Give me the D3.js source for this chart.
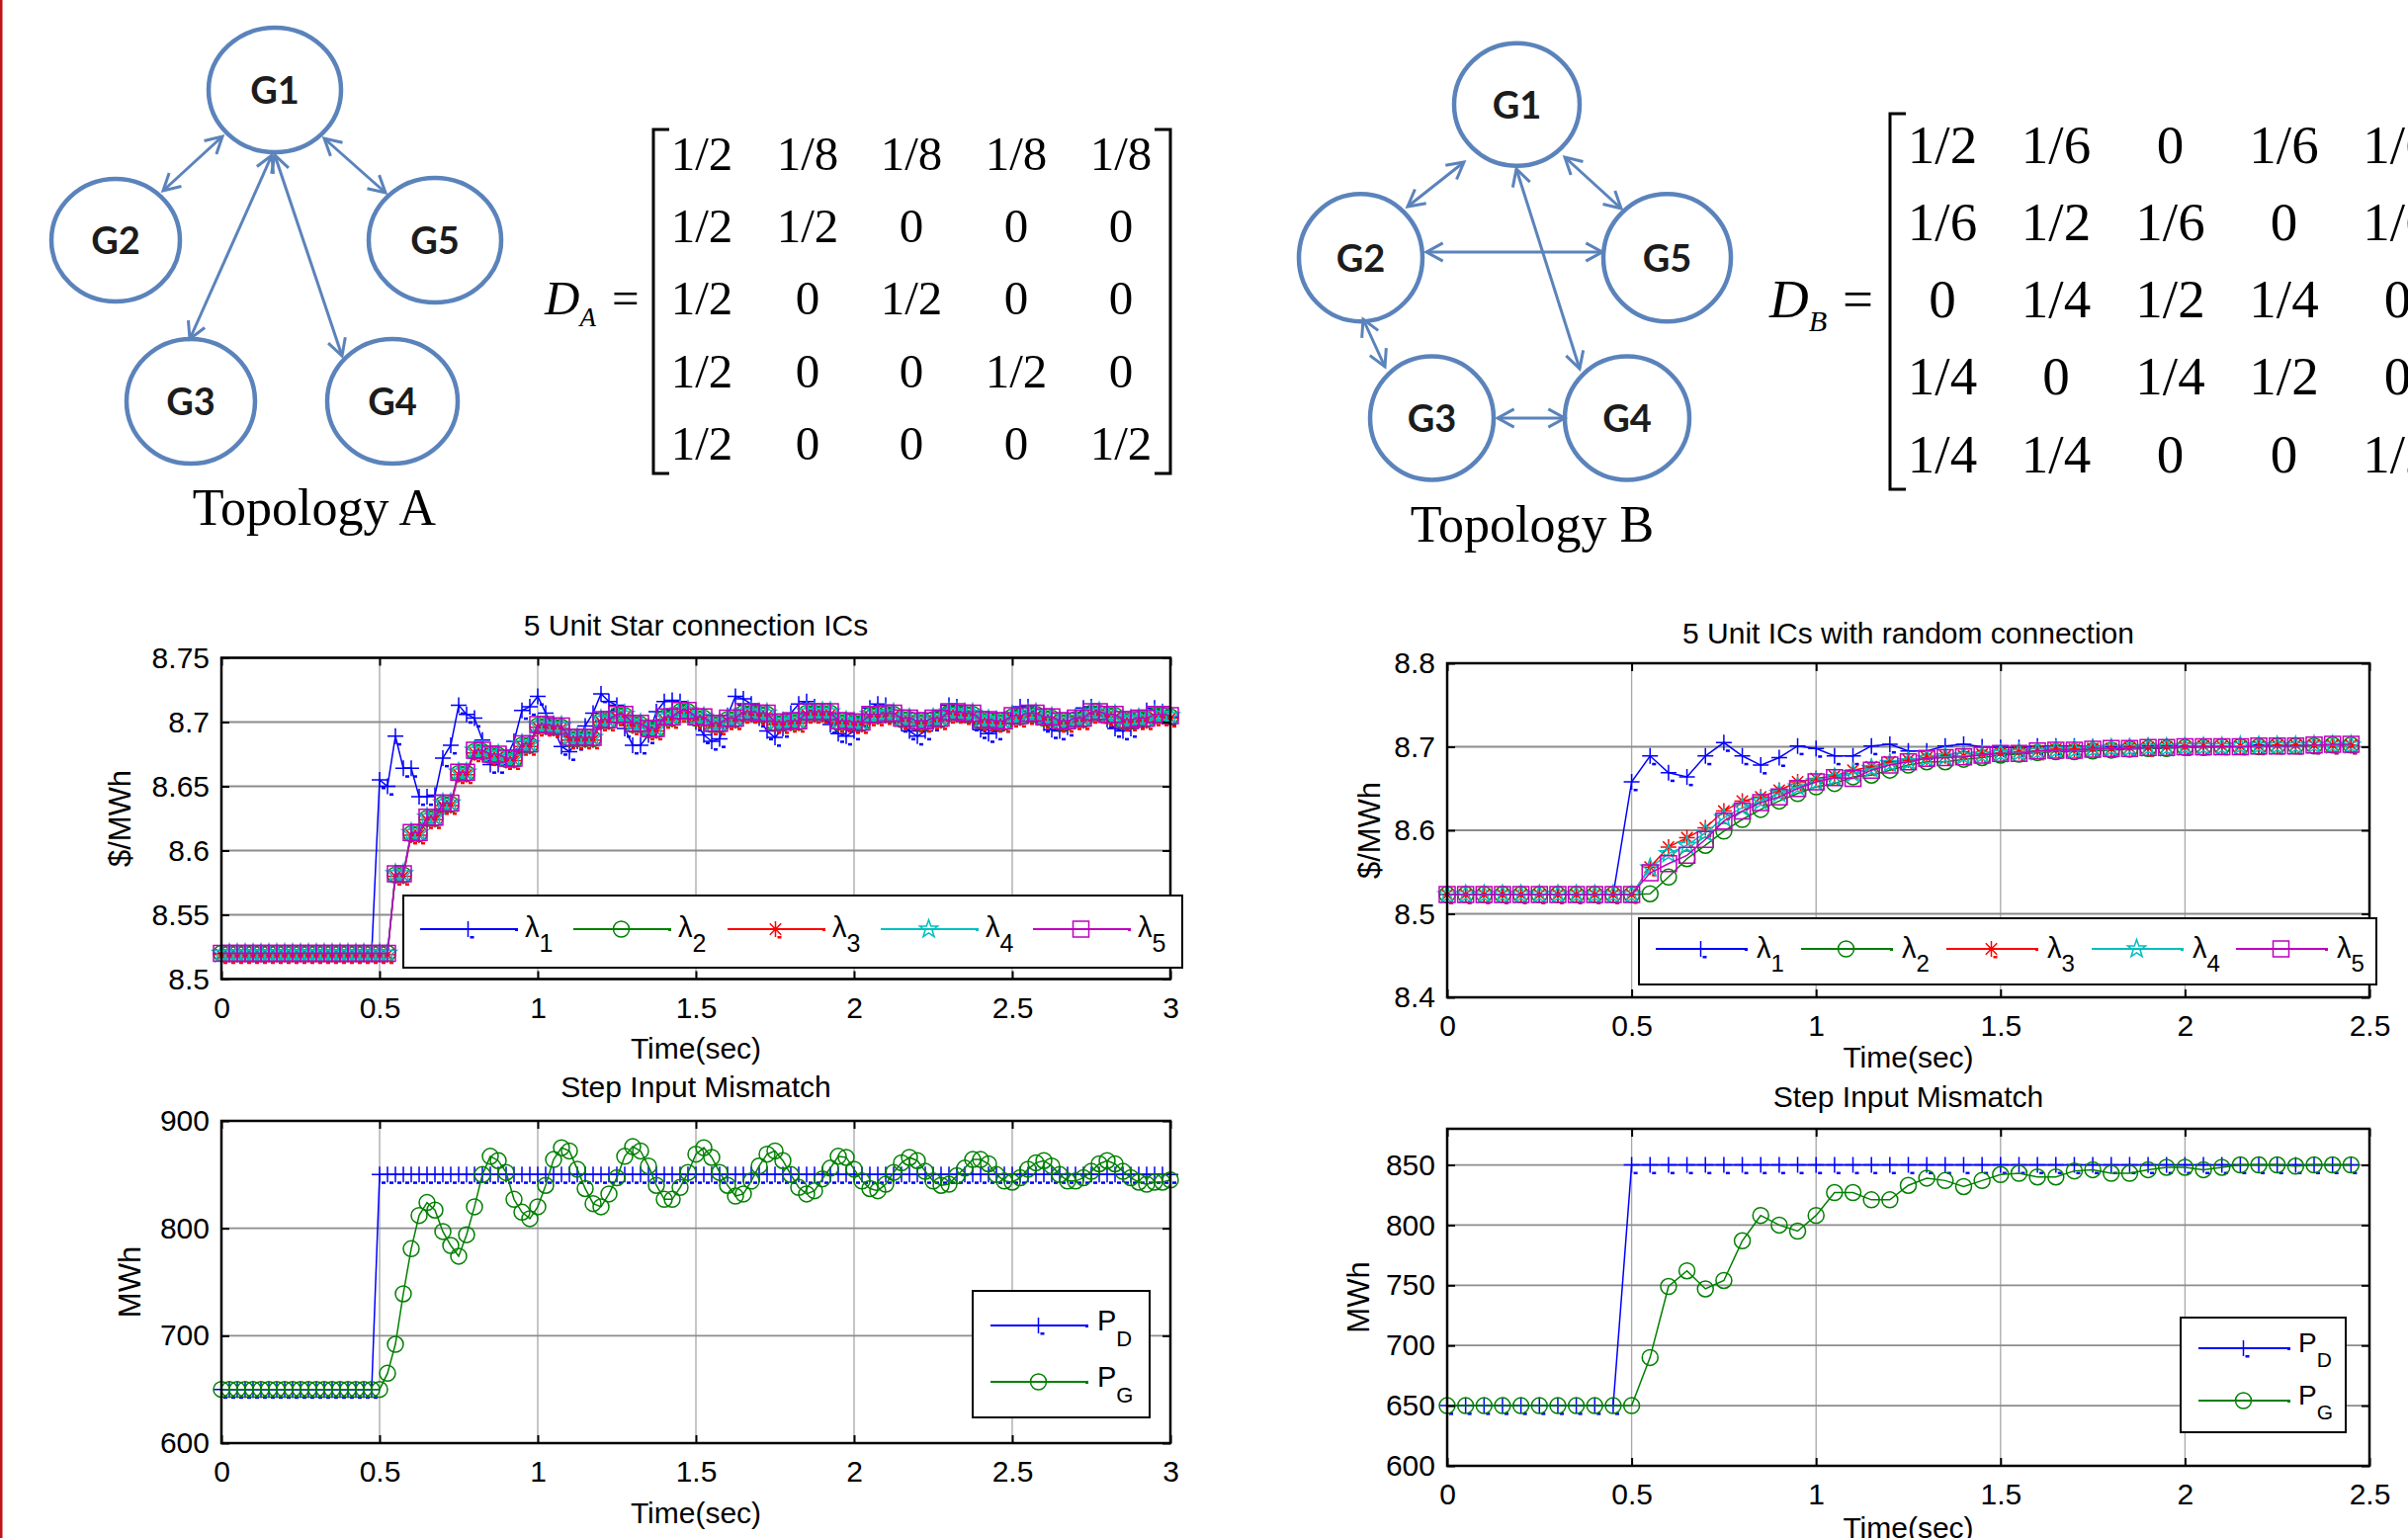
<!DOCTYPE html>
<html><head><meta charset="utf-8">
<script src="https://cdn.jsdelivr.net/npm/d3@7"></script>
<style>body{margin:0;background:#fff}svg{display:block}</style>
</head><body><div id="chart"></div>
<script>
// ---------------- DATA ----------------
const nodesA = ["G1","G2","G3","G4","G5"];
const edgesA = [["G1","G2"],["G1","G5"],["G1","G3"],["G1","G4"]];
const nodesB = ["G1","G2","G3","G4","G5"];
const edgesB = [["G1","G2"],["G1","G5"],["G2","G5"],["G1","G4"],["G2","G3"],["G3","G4"]];
const topoLabels = ["Topology A","Topology B"];

const matrixA = [["1/2","1/8","1/8","1/8","1/8"],["1/2","1/2","0","0","0"],["1/2","0","1/2","0","0"],["1/2","0","0","1/2","0"],["1/2","0","0","0","1/2"]];
const matrixB = [["1/2","1/6","0","1/6","1/6"],["1/6","1/2","1/6","0","1/6"],["0","1/4","1/2","1/4","0"],["1/4","0","1/4","1/2","0"],["1/4","1/4","0","0","1/2"]];

const xTicks3 = [0,0.5,1,1.5,2,2.5,3];
const xTicks25 = [0,0.5,1,1.5,2,2.5];
const yTicksLamA = [8.5,8.55,8.6,8.65,8.7,8.75];
const yTicksLamB = [8.4,8.5,8.6,8.7,8.8];
const yTicksPA = [600,700,800,900];
const yTicksPB = [600,650,700,750,800,850];

const stepA = 0.025;   // sample step, topology A plots
const stepB = 0.05;    // sample step, topology B plots

const lam1A = [8.52,8.52,8.52,8.52,8.52,8.52,8.52,8.52,8.52,8.52,8.52,8.52,8.52,8.52,8.52,8.52,8.52,8.52,8.52,8.52,
8.655,8.650,8.689,8.664,8.664,8.642,8.642,8.643,8.672,8.682,
8.713,8.706,8.703,8.686,8.667,8.667,8.672,8.685,8.709,8.712,
8.720,8.707,8.695,8.681,8.677,8.685,8.697,8.707,8.722,8.716,
8.713,8.695,8.682,8.682,8.690,8.708,8.716,8.717,8.716,8.706,
8.700,8.690,8.685,8.687,8.705,8.720,8.718,8.714,8.703,8.693,
8.688,8.695,8.707,8.714,8.716,8.712,8.707,8.698,8.691,8.689,
8.693,8.703,8.711,8.714,8.713,8.707,8.699,8.693,8.689,8.693,
8.700,8.708,8.713,8.712,8.708,8.700,8.694,8.691,8.693,8.699,
8.707,8.712,8.712,8.707,8.699,8.694,8.693,8.696,8.704,8.711,
8.712,8.708,8.702,8.695,8.693,8.695,8.702,8.709,8.711,8.708,
8.704];
const lam2A = [8.52,8.52,8.52,8.52,8.52,8.52,8.52,8.52,8.52,8.52,8.52,8.52,8.52,8.52,8.52,8.52,8.52,8.52,8.52,8.52,8.52,8.52,
8.581,8.581,8.613,8.613,8.625,8.625,8.636,8.636,8.660,8.660,
8.677,8.677,8.674,8.674,8.671,8.671,8.682,8.682,8.697,8.697,
8.696,8.696,8.687,8.687,8.687,8.687,8.701,8.701,8.705,8.705,
8.698,8.698,8.694,8.694,8.703,8.703,8.708,8.708,8.703,8.703,
8.698,8.698,8.702,8.702,8.707,8.707,8.706,8.706,8.699,8.699,
8.700,8.700,8.707,8.707,8.707,8.707,8.700,8.700,8.699,8.699,
8.705,8.705,8.706,8.706,8.702,8.702,8.700,8.700,8.702,8.702,
8.707,8.707,8.706,8.706,8.701,8.701,8.700,8.700,8.704,8.704,
8.706,8.706,8.703,8.703,8.700,8.700,8.702,8.702,8.707,8.707,
8.705,8.705,8.701,8.701,8.702,8.702,8.705,8.705,8.704];
const lam3A = [8.519,8.519,8.519,8.519,8.519,8.519,8.519,8.519,8.519,8.519,8.519,8.519,8.519,8.519,8.519,8.519,8.519,8.519,8.519,8.519,8.519,8.519,
8.580,8.580,8.612,8.612,8.624,8.624,8.635,8.635,8.659,8.659,
8.676,8.676,8.673,8.673,8.670,8.670,8.681,8.681,8.696,8.696,
8.695,8.695,8.686,8.686,8.686,8.686,8.700,8.700,8.704,8.704,
8.697,8.697,8.693,8.693,8.702,8.702,8.707,8.707,8.702,8.702,
8.697,8.697,8.701,8.701,8.706,8.706,8.705,8.705,8.698,8.698,
8.699,8.699,8.706,8.706,8.706,8.706,8.699,8.699,8.698,8.698,
8.704,8.704,8.705,8.705,8.701,8.701,8.699,8.699,8.701,8.701,
8.706,8.706,8.705,8.705,8.700,8.700,8.699,8.699,8.703,8.703,
8.705,8.705,8.702,8.702,8.699,8.699,8.701,8.701,8.706,8.706,
8.704,8.704,8.700,8.700,8.701,8.701,8.704,8.704,8.703];
const lam4A = [8.52,8.52,8.52,8.52,8.52,8.52,8.52,8.52,8.52,8.52,8.52,8.52,8.52,8.52,8.52,8.52,8.52,8.52,8.52,8.52,8.52,8.52,
8.582,8.582,8.614,8.614,8.626,8.626,8.637,8.637,8.661,8.661,
8.678,8.678,8.675,8.675,8.672,8.672,8.683,8.683,8.698,8.698,
8.697,8.697,8.688,8.688,8.688,8.688,8.702,8.702,8.706,8.706,
8.699,8.699,8.695,8.695,8.704,8.704,8.709,8.709,8.704,8.704,
8.699,8.699,8.703,8.703,8.708,8.708,8.707,8.707,8.700,8.700,
8.701,8.701,8.708,8.708,8.708,8.708,8.701,8.701,8.700,8.700,
8.706,8.706,8.707,8.707,8.703,8.703,8.701,8.701,8.703,8.703,
8.708,8.708,8.707,8.707,8.702,8.702,8.701,8.701,8.705,8.705,
8.707,8.707,8.704,8.704,8.701,8.701,8.703,8.703,8.708,8.708,
8.706,8.706,8.702,8.702,8.703,8.703,8.706,8.706,8.705];
const lam5A = [8.52,8.52,8.52,8.52,8.52,8.52,8.52,8.52,8.52,8.52,8.52,8.52,8.52,8.52,8.52,8.52,8.52,8.52,8.52,8.52,8.52,8.52,
8.582,8.582,8.614,8.614,8.626,8.626,8.637,8.637,8.661,8.661,
8.678,8.678,8.675,8.675,8.672,8.672,8.683,8.683,8.698,8.698,
8.697,8.697,8.688,8.688,8.688,8.688,8.702,8.702,8.706,8.706,
8.699,8.699,8.695,8.695,8.704,8.704,8.709,8.709,8.704,8.704,
8.699,8.699,8.703,8.703,8.708,8.708,8.707,8.707,8.700,8.700,
8.701,8.701,8.708,8.708,8.708,8.708,8.701,8.701,8.700,8.700,
8.706,8.706,8.707,8.707,8.703,8.703,8.701,8.701,8.703,8.703,
8.708,8.708,8.707,8.707,8.702,8.702,8.701,8.701,8.705,8.705,
8.707,8.707,8.704,8.704,8.701,8.701,8.703,8.703,8.708,8.708,
8.706,8.706,8.702,8.702,8.703,8.703,8.706,8.706,8.705];

const lam1B = [8.523,8.523,8.523,8.523,8.523,8.523,8.523,8.523,8.523,8.523,
8.658,8.689,8.669,8.664,8.689,8.705,8.689,8.678,8.687,8.701,
8.698,8.689,8.689,8.701,8.703,8.695,8.695,8.701,8.703,8.700,
8.699,8.699,8.701,8.701,8.701,8.700,8.700,8.701,8.701,8.701,
8.701,8.701,8.701,8.701,8.702,8.702,8.702,8.702,8.702,8.702];
const lam2B = [8.523,8.523,8.523,8.523,8.523,8.523,8.523,8.523,8.523,8.523,8.523,
8.524,8.544,8.566,8.582,8.599,8.613,8.625,8.635,8.644,
8.652,8.656,8.664,8.666,8.672,8.678,8.682,8.682,8.685,8.687,
8.690,8.691,8.693,8.694,8.694,8.695,8.696,8.697,8.698,8.698,
8.699,8.699,8.700,8.700,8.700,8.701,8.701,8.701,8.702,8.702];
const lam3B = [8.523,8.523,8.523,8.523,8.523,8.523,8.523,8.523,8.523,8.523,8.523,
8.556,8.580,8.591,8.603,8.623,8.635,8.640,8.648,8.658,
8.662,8.665,8.672,8.676,8.682,8.684,8.687,8.689,8.689,8.691,
8.693,8.694,8.695,8.697,8.697,8.698,8.698,8.699,8.699,8.700,
8.700,8.701,8.701,8.701,8.701,8.702,8.702,8.702,8.702,8.702];
const lam4B = [8.523,8.523,8.523,8.523,8.523,8.523,8.523,8.523,8.523,8.523,8.523,
8.555,8.572,8.582,8.597,8.615,8.627,8.635,8.644,8.652,
8.658,8.663,8.668,8.674,8.680,8.682,8.686,8.688,8.689,8.690,
8.692,8.693,8.694,8.696,8.696,8.697,8.698,8.698,8.699,8.699,
8.700,8.700,8.700,8.701,8.701,8.701,8.701,8.702,8.702,8.702];
const lam5B = [8.523,8.523,8.523,8.523,8.523,8.523,8.523,8.523,8.523,8.523,8.523,
8.549,8.560,8.570,8.589,8.611,8.623,8.633,8.640,8.650,
8.658,8.663,8.662,8.672,8.678,8.682,8.686,8.687,8.688,8.690,
8.692,8.692,8.695,8.696,8.696,8.697,8.698,8.698,8.699,8.699,
8.700,8.700,8.700,8.700,8.701,8.701,8.701,8.702,8.703,8.703];

const pdA = [650,650,650,650,650,650,650,650,650,650,650,650,650,650,650,650,650,650,650,650,
850,850,850,850,850,850,850,850,850,850,850,850,850,850,850,850,850,850,850,850,
850,850,850,850,850,850,850,850,850,850,850,850,850,850,850,850,850,850,850,850,
850,850,850,850,850,850,850,850,850,850,850,850,850,850,850,850,850,850,850,850,
850,850,850,850,850,850,850,850,850,850,850,850,850,850,850,850,850,850,850,850,
850,850,850,850,850,850,850,850,850,850,850,850,850,850,850,850,850,850,850,850,
850];
const pgA = [650,650,650,650,650,650,650,650,650,650,650,650,650,650,650,650,650,650,650,650,650,
665,692,739,781,812,824,817,797,784,774,
794,820,850,867,863,852,827,815,809,820,
840,864,875,872,855,837,823,820,832,847,
867,876,872,858,840,827,827,838,852,869,
875,866,852,840,830,832,844,858,869,872,
863,850,838,832,835,846,856,867,866,855,
844,837,835,841,852,861,866,863,853,844,
840,841,849,856,864,864,860,850,844,843,
847,855,861,863,858,850,844,844,847,853,
860,863,860,853,847,843,841,843,843,845];
const pdB = [650,650,650,650,650,650,650,650,650,650,
850,850,850,850,850,850,850,850,850,850,850,850,850,850,850,850,850,850,850,850,
850,850,850,850,850,850,850,850,850,850,850,850,850,850,850,850,850,850,850,850];
const pgB = [650,650,650,650,650,650,650,650,650,650,650,
690,749,762,747,754,787,808,800,795,808,
827,827,821,821,833,839,837,832,837,842,
843,840,840,845,846,843,843,846,848,848,
846,848,850,850,850,849,850,850,850];

// ---------------- SETUP ----------------
const W = 2436, H = 1556;
const SANS = "'Liberation Sans', Arial, Helvetica, sans-serif";
const SERIF = "'Liberation Serif', 'Times New Roman', Times, serif";
const svg = d3.select("#chart").append("svg").attr("width", W).attr("height", H);
svg.append("rect").attr("width", W).attr("height", H).attr("fill", "#fff");
svg.append("rect").attr("x", 0).attr("y", 0).attr("width", 2.5).attr("height", H).attr("fill", "#c0141b");

// ---------------- TOPOLOGY ----------------
const nodeColor = "#5b83bb";
const layoutA = {
  nodes: {G1:[278,91,67,63], G2:[117,243,65,62], G5:[440,243,67,63], G3:[193,406,65,63], G4:[397,406,66,63]},
  edges: [[[225,138],[165,193]], [[328,140],[390,195]], [[275,157],[192,343]], [[278,157],[346,360]]],
  label: [318, 531]
};
const layoutB = {
  nodes: {G1:[1534.5,105.7,63.5,62], G2:[1376.5,260.7,62.5,64.5], G5:[1686.5,260.7,64.5,64.5], G3:[1448.5,423,62.5,62.5], G4:[1646,423,63,62.5]},
  edges: [[[1481,164],[1424,209]], [[1583,159],[1640,211]], [[1443,255],[1621,255]], [[1534,171],[1598,373]], [[1379,323],[1401,371]], [[1515,423],[1583,423]]],
  label: [1550, 548]
};
function arrowHead(g, tip, from) {
  const dx = tip[0]-from[0], dy = tip[1]-from[1], len = Math.hypot(dx, dy);
  const ux = dx/len, uy = dy/len, L = 19, a = 0.5;
  const pt = s => [tip[0] - L*(ux*Math.cos(s*a) - uy*Math.sin(s*a)), tip[1] - L*(uy*Math.cos(s*a) + ux*Math.sin(s*a))];
  const p1 = pt(1), p2 = pt(-1);
  g.append("path").attr("d", `M${p1[0]},${p1[1]}L${tip[0]},${tip[1]}L${p2[0]},${p2[1]}`)
    .attr("fill", "none").attr("stroke", nodeColor).attr("stroke-width", 3).attr("stroke-linejoin", "miter");
}
function drawTopology(nodes, edges, layout, label) {
  const g = svg.append("g");
  nodes.forEach(n => {
    const [cx, cy, rx, ry] = layout.nodes[n];
    g.append("ellipse").attr("cx", cx).attr("cy", cy).attr("rx", rx).attr("ry", ry)
      .attr("fill", "#fff").attr("stroke", nodeColor).attr("stroke-width", 4.5);
    g.append("text").attr("x", cx).attr("y", cy + 14).attr("text-anchor", "middle")
      .attr("font-family", "Lato, 'Open Sans', sans-serif").attr("font-weight", "bold")
      .attr("font-size", 38).attr("fill", "#1c1c1c").text(n);
  });
  edges.forEach((e, i) => {
    const [a, b] = layout.edges[i];
    g.append("line").attr("x1", a[0]).attr("y1", a[1]).attr("x2", b[0]).attr("y2", b[1])
      .attr("stroke", nodeColor).attr("stroke-width", 3);
    arrowHead(g, a, b); arrowHead(g, b, a);
  });
  g.append("text").attr("x", layout.label[0]).attr("y", layout.label[1]).attr("text-anchor", "middle")
    .attr("font-family", SERIF).attr("font-size", 52).attr("fill", "#000").text(label);
}
drawTopology(nodesA, edgesA, layoutA, topoLabels[0]);
drawTopology(nodesB, edgesB, layoutB, topoLabels[1]);

// ---------------- MATRICES ----------------
function drawMatrix(m, cfg) {
  const g = svg.append("g").attr("font-family", SERIF).attr("fill", "#000");
  const t = g.append("text").attr("x", cfg.dX).attr("y", cfg.dY).attr("font-size", cfg.fs);
  t.append("tspan").attr("font-style", "italic").text("D");
  t.append("tspan").attr("font-style", "italic").attr("font-size", cfg.fs*0.55).attr("dy", cfg.fs*0.25).text(cfg.sub);
  g.append("text").attr("x", cfg.eqX).attr("y", cfg.dY).attr("font-size", cfg.fs).text("=");
  m.forEach((row, r) => row.forEach((v, c) => {
    g.append("text").attr("x", cfg.cols[c]).attr("y", cfg.rows[r]).attr("text-anchor", "middle")
      .attr("font-size", cfg.fs).text(v);
  }));
  const s = 16;
  g.append("path").attr("d", `M${cfg.bl+s},${cfg.bt}H${cfg.bl}V${cfg.bb}H${cfg.bl+s}`)
    .attr("fill", "none").attr("stroke", "#000").attr("stroke-width", 3);
  g.append("path").attr("d", `M${cfg.br-s},${cfg.bt}H${cfg.br}V${cfg.bb}H${cfg.br-s}`)
    .attr("fill", "none").attr("stroke", "#000").attr("stroke-width", 3);
}
drawMatrix(matrixA, {fs:49, sub:"A", dX:551, dY:318, eqX:619, cols:[710,817,922,1028,1134], rows:[171.7,245,318.3,391.7,465], bl:661, br:1184, bt:131, bb:479});
drawMatrix(matrixB, {fs:55, sub:"B", dX:1790, dY:321, eqX:1864, cols:[1965,2080,2195.5,2310.5,2425.5], rows:[165,243,321,399,478], bl:1912, br:2490, bt:115, bb:495});

// ---------------- CHARTS ----------------
const colors = {b:"#0000ff", g:"#008000", r:"#ff0000", c:"#00bfbf", m:"#bf00bf"};
function starPath(R, r) {
  let p = "";
  for (let k = 0; k < 10; k++) {
    const ang = -Math.PI/2 + k*Math.PI/5, rr = k % 2 ? r : R;
    p += (k ? "L" : "M") + (rr*Math.cos(ang)).toFixed(2) + "," + (rr*Math.sin(ang)).toFixed(2);
  }
  return p + "Z";
}
const markerPaths = {
  plus: "M-8,0H8M0,-8V8",
  circle: "M8,0A8,8 0 1,1 -8,0A8,8 0 1,1 8,0Z",
  asterisk: "M-8,0H8M0,-8V8M-5.7,-5.7L5.7,5.7M-5.7,5.7L5.7,-5.7",
  star: starPath(9.5, 3.8),
  square: "M-8,-8H8V8H-8Z"
};
function drawMarker(g, type, color, x, y) {
  g.append("path").attr("transform", `translate(${x},${y})`).attr("d", markerPaths[type])
    .attr("fill", "none").attr("stroke", color).attr("stroke-width", 1.5);
  if (type === "plus" || type === "asterisk") {
    g.append("rect").attr("x", x + 2).attr("y", y + 7).attr("width", 4).attr("height", 2.5).attr("fill", color);
  }
}
function styleAxis(sel) {
  sel.select(".domain").remove();
  sel.selectAll(".tick line").attr("stroke", "#000").attr("stroke-width", 2);
  sel.selectAll(".tick text").attr("font-family", SANS).attr("font-size", 30).attr("fill", "#000");
}
function drawChart(c) {
  const x = d3.scaleLinear().domain(c.xd).range([c.left, c.right]);
  const y = d3.scaleLinear().domain(c.yd).range([c.bottom, c.top]);
  const g = svg.append("g");
  g.append("g").selectAll("line").data(c.xTicks).join("line")
    .attr("x1", d => x(d)).attr("x2", d => x(d)).attr("y1", c.top).attr("y2", c.bottom)
    .attr("stroke", "#a8a8a8").attr("stroke-width", 1.3);
  g.append("g").selectAll("line").data(c.yTicks).join("line")
    .attr("x1", c.left).attr("x2", c.right).attr("y1", d => y(d)).attr("y2", d => y(d))
    .attr("stroke", "#8c8c8c").attr("stroke-width", 1.8);
  c.series.forEach(s => {
    const pts = s.v.map((v, i) => ({t: i*s.step, v}));
    g.append("path").datum(pts).attr("d", d3.line().x(d => x(d.t)).y(d => y(d.v)))
      .attr("fill", "none").attr("stroke", s.color).attr("stroke-width", 1.5);
    const mg = g.append("g");
    pts.forEach(d => drawMarker(mg, s.marker, s.color, x(d.t), y(d.v)));
  });
  const fmt = d => String(d);
  g.append("g").attr("transform", `translate(${c.left},0)`)
    .call(d3.axisLeft(y).tickValues(c.yTicks).tickFormat(fmt).tickSizeInner(-8).tickSizeOuter(0).tickPadding(12)).call(styleAxis);
  g.append("g").attr("transform", `translate(${c.right},0)`)
    .call(d3.axisRight(y).tickValues(c.yTicks).tickFormat("").tickSizeInner(-8).tickSizeOuter(0)).call(styleAxis);
  g.append("g").attr("transform", `translate(0,${c.bottom})`)
    .call(d3.axisBottom(x).tickValues(c.xTicks).tickFormat(fmt).tickSizeInner(-8).tickSizeOuter(0).tickPadding(18)).call(styleAxis);
  g.append("g").attr("transform", `translate(0,${c.top})`)
    .call(d3.axisTop(x).tickValues(c.xTicks).tickFormat("").tickSizeInner(-8).tickSizeOuter(0)).call(styleAxis);
  g.append("rect").attr("x", c.left).attr("y", c.top).attr("width", c.right - c.left).attr("height", c.bottom - c.top)
    .attr("fill", "none").attr("stroke", "#000").attr("stroke-width", 2.5);
  const cx = (c.left + c.right)/2;
  g.append("text").attr("x", cx).attr("y", c.titleY).attr("text-anchor", "middle")
    .attr("font-family", SANS).attr("font-size", 30).text(c.title);
  g.append("text").attr("x", cx).attr("y", c.xlabelY).attr("text-anchor", "middle")
    .attr("font-family", SANS).attr("font-size", 30).text(c.xlabel);
  g.append("text").attr("transform", `translate(${c.ylabelX},${(c.top + c.bottom)/2}) rotate(-90)`).attr("text-anchor", "middle")
    .attr("font-family", SANS).attr("font-size", 31).text(c.ylabel);
  // legend
  const L = c.legend;
  const lg = g.append("g");
  lg.append("rect").attr("x", L.x).attr("y", L.y).attr("width", L.w).attr("height", L.h)
    .attr("fill", "#fff").attr("stroke", "#000").attr("stroke-width", 2);
  L.items.forEach((it, i) => {
    const s = c.series[i];
    lg.append("line").attr("x1", it.x0).attr("x2", it.x1).attr("y1", it.y).attr("y2", it.y)
      .attr("stroke", s.color).attr("stroke-width", 1.8);
    lg.append("rect").attr("x", it.x1 - 1).attr("y", it.y - 1).attr("width", 3).attr("height", 3).attr("fill", s.color);
    drawMarker(lg, s.marker, s.color, (it.x0 + it.x1)/2, it.y);
    const t = lg.append("text").attr("x", it.tx).attr("y", it.y + L.base).attr("font-family", SANS).attr("font-size", L.fs);
    t.append("tspan").text(s.name);
    t.append("tspan").attr("font-size", L.subFs).attr("dy", L.subDy).text(s.sub);
  });
}

const lamNames = ["1","2","3","4","5"];
drawChart({
  left:224, right:1184, top:665.5, bottom:990.5, xd:[0,3], yd:[8.5,8.75], xTicks:xTicks3, yTicks:yTicksLamA,
  title:"5 Unit Star connection ICs", titleY:643, xlabel:"Time(sec)", xlabelY:1071, ylabel:"$/MWh", ylabelX:132,
  series:[
    {v:lam1A, step:stepA, color:colors.b, marker:"plus", name:"λ", sub:lamNames[0]},
    {v:lam2A, step:stepA, color:colors.g, marker:"circle", name:"λ", sub:lamNames[1]},
    {v:lam3A, step:stepA, color:colors.r, marker:"asterisk", name:"λ", sub:lamNames[2]},
    {v:lam4A, step:stepA, color:colors.c, marker:"star", name:"λ", sub:lamNames[3]},
    {v:lam5A, step:stepA, color:colors.m, marker:"square", name:"λ", sub:lamNames[4]}
  ],
  legend:{x:408, y:906, w:788, h:73, fs:29, subFs:25, base:8, subDy:15,
    items:[425,580,736,891,1045].map(x0 => ({x0, x1:x0+97, y:940, tx:x0+106}))}
});
drawChart({
  left:1464, right:2397, top:671, bottom:1009, xd:[0,2.5], yd:[8.4,8.8], xTicks:xTicks25, yTicks:yTicksLamB,
  title:"5 Unit ICs with random connection", titleY:651, xlabel:"Time(sec)", xlabelY:1080, ylabel:"$/MWh", ylabelX:1396,
  series:[
    {v:lam1B, step:stepB, color:colors.b, marker:"plus", name:"λ", sub:lamNames[0]},
    {v:lam2B, step:stepB, color:colors.g, marker:"circle", name:"λ", sub:lamNames[1]},
    {v:lam3B, step:stepB, color:colors.r, marker:"asterisk", name:"λ", sub:lamNames[2]},
    {v:lam4B, step:stepB, color:colors.c, marker:"star", name:"λ", sub:lamNames[3]},
    {v:lam5B, step:stepB, color:colors.m, marker:"square", name:"λ", sub:lamNames[4]}
  ],
  legend:{x:1658, y:929, w:746, h:67, fs:29, subFs:24, base:9, subDy:14,
    items:[1675,1822,1969,2116,2262].map(x0 => ({x0, x1:x0+91, y:960, tx:x0+102}))}
});
drawChart({
  left:224, right:1184, top:1134, bottom:1460, xd:[0,3], yd:[600,900], xTicks:xTicks3, yTicks:yTicksPA,
  title:"Step Input Mismatch", titleY:1110, xlabel:"Time(sec)", xlabelY:1541, ylabel:"MWh", ylabelX:142,
  series:[
    {v:pdA, step:stepA, color:colors.b, marker:"plus", name:"P", sub:"D"},
    {v:pgA, step:stepA, color:colors.g, marker:"circle", name:"P", sub:"G"}
  ],
  legend:{x:984, y:1306, w:179, h:128, fs:29, subFs:22, base:5, subDy:16,
    items:[{x0:1002, x1:1099, y:1341, tx:1110}, {x0:1002, x1:1099, y:1398, tx:1110}]}
});
drawChart({
  left:1464, right:2397, top:1142, bottom:1483, xd:[0,2.5], yd:[600,880], xTicks:xTicks25, yTicks:yTicksPB,
  title:"Step Input Mismatch", titleY:1120, xlabel:"Time(sec)", xlabelY:1556, ylabel:"MWh", ylabelX:1385,
  series:[
    {v:pdB, step:stepB, color:colors.b, marker:"plus", name:"P", sub:"D"},
    {v:pgB, step:stepB, color:colors.g, marker:"circle", name:"P", sub:"G"}
  ],
  legend:{x:2206, y:1333, w:167, h:116, fs:28, subFs:21, base:4, subDy:15,
    items:[{x0:2224, x1:2315, y:1364, tx:2325}, {x0:2224, x1:2315, y:1417, tx:2325}]}
});
</script></body></html>
